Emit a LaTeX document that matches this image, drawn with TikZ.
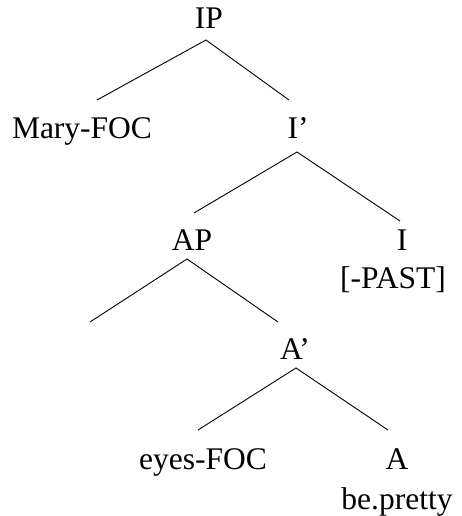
\documentclass[tikz,border=0pt]{standalone}
\usepackage{fontspec}
\setmainfont{Liberation Serif}
\begin{document}
\begin{tikzpicture}[x=1pt,y=-1pt,
  lbl/.style={anchor=base,inner sep=0pt,font=\fontsize{31.5}{37}\selectfont},
  edge/.style={line width=0.9pt,black}]
\useasboundingbox (0,0) rectangle (461,516);
\node[lbl] (IP) at (209,29) {IP};
\node[lbl] (Mary) at (82,139) {Mary-FOC};
\node[lbl] (Ibar) at (298,139) {I’};
\node[lbl] (AP) at (192,250) {AP};
\node[lbl] (I) at (402,250) {I};
\node[lbl] (PAST) at (393,288) {[-PAST]};
\node[lbl] (Abar) at (295,359) {A’};
\node[lbl] (eyes) at (203,469) {eyes-FOC};
\node[lbl] (A) at (397,469) {A};
\node[lbl] (pretty) at (397,509) {be.pretty};
% apexes and ends
\coordinate (IPb) at (206,40);
\coordinate (Maryt) at (97,100);
\coordinate (Ibart) at (289,100);
\coordinate (Ibarb) at (297,152);
\coordinate (APt) at (194,213);
\coordinate (It) at (400,221);
\coordinate (APb) at (187,259);
\coordinate (spec) at (90,322);
\coordinate (Abart) at (278,322);
\coordinate (Abarb) at (296,368);
\coordinate (eyest) at (198,430);
\coordinate (At) at (388,430);
\draw[edge] (Maryt) -- (IPb) -- (Ibart);
\draw[edge] (APt) -- (Ibarb) -- (It);
\draw[edge] (spec) -- (APb) -- (Abart);
\draw[edge] (eyest) -- (Abarb) -- (At);
\end{tikzpicture}
\end{document}
